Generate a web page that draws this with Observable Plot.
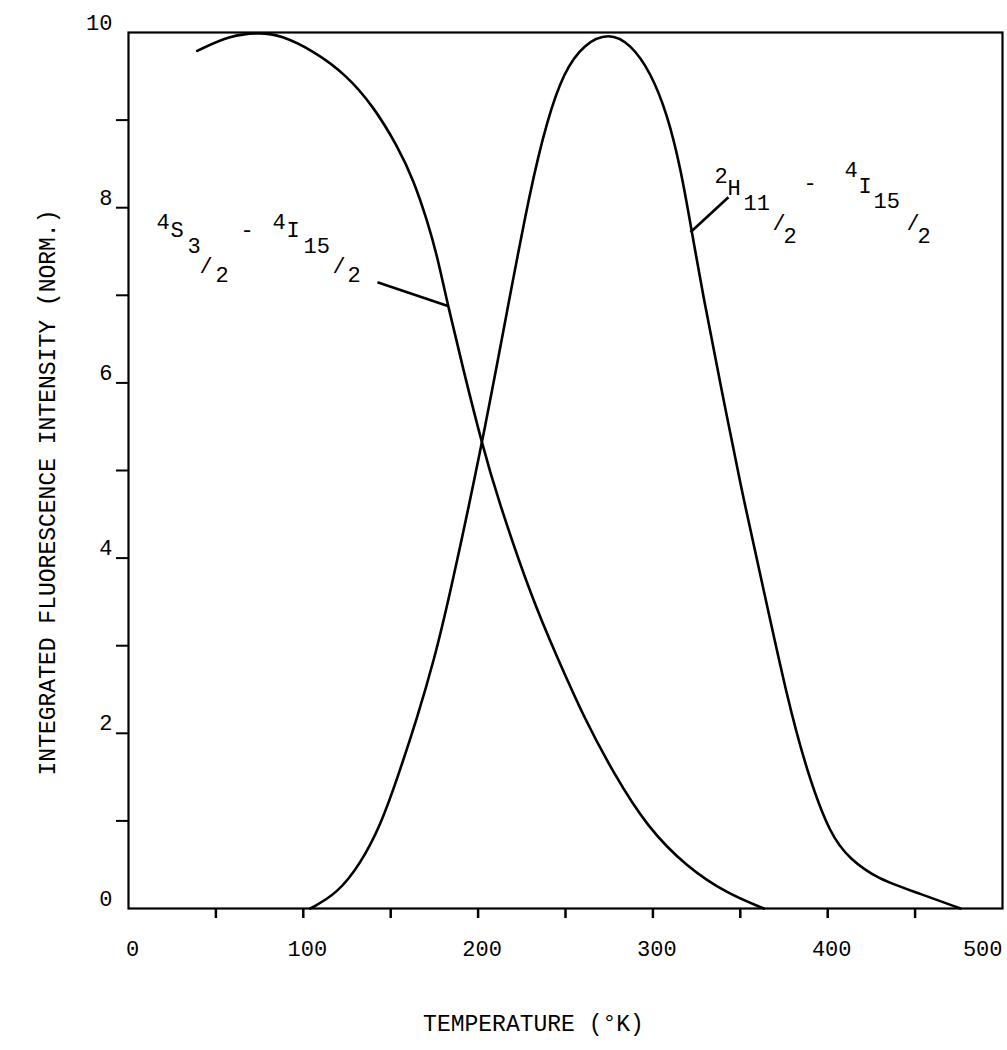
<!DOCTYPE html>
<html><head><meta charset="utf-8">
<script src="https://cdn.jsdelivr.net/npm/d3@7"></script>
<script src="https://cdn.jsdelivr.net/npm/@observablehq/plot@0.6"></script>
<style>body{margin:0;background:#fff} svg{display:block}</style>
</head><body><div id="chart"></div>
<script>
// 4S3/2 - 4I15/2 band
const sTemp = [39.3, 58.4, 75.5, 87, 106, 125, 140.3, 153.7, 163.2, 170.9, 176.6, 182.3, 191.8, 202.3, 210.9, 230.9, 245.2, 260.5, 277.6, 296.7, 319.6, 342.5, 363.5];
const sInt  = [9.79, 9.97, 10.0, 9.97, 9.79, 9.51, 9.15, 8.71, 8.31, 7.85, 7.45, 6.92, 6.13, 5.30, 4.70, 3.53, 2.87, 2.18, 1.54, 0.93, 0.47, 0.17, 0];
// 2H11/2 - 4I15/2 band
const hTemp = [104, 119.4, 132.7, 144.2, 153.7, 165.2, 174.7, 183.2, 202.3, 215.7, 230, 239.5, 249, 260.5, 274.8, 287.2, 298.6, 308.2, 315.8, 322.5, 328.2, 339, 350.1, 361.6, 376.8, 388.3, 401.6, 413, 428.3, 451.2, 476];
const hInt  = [0, 0.17, 0.51, 0.95, 1.48, 2.18, 2.83, 3.52, 5.30, 6.73, 8.23, 9.0, 9.55, 9.87, 10.0, 9.87, 9.55, 9.07, 8.46, 7.70, 7.05, 5.95, 4.83, 3.80, 2.40, 1.55, 0.83, 0.56, 0.34, 0.18, 0];

const xTickValues = [50, 100, 150, 200, 250, 300, 350, 400, 450];
const xTickLabels = [0, 100, 200, 300, 400, 500];
const yTickValues = [1, 2, 3, 4, 5, 6, 7, 8, 9];
const yTickLabels = [0, 2, 4, 6, 8, 10];
const xTitle = "TEMPERATURE (°K)";
const yTitle = "INTEGRATED FLUORESCENCE INTENSITY (NORM.)";

// annotation pieces
const label1Text = ["4", "S", "3", "/", "2", "-", "4", "I", "15", "/", "2"];
const label2Text = ["2", "H", "11", "/", "2", "-", "4", "I", "15", "/", "2"];

const sData = sTemp.map((t, i) => ({t, v: sInt[i]}));
const hData = hTemp.map((t, i) => ({t, v: hInt[i]}));

// layout of annotations (anchor in data coords, piece offsets in px)
const ann1 = {x: 24.0, y: 7.66, dx: [-14, 0, 17, 29, 45, 70, 102, 116, 133, 162, 177], dy: [-8, 0, 16, 36, 45, 0, -8, 0, 16, 36, 45]};
const ann2 = {x: 342.7, y: 8.14, dx: [-13, 0, 16, 45, 56, 76, 117, 131, 146, 179, 190], dy: [-12, 0, 15, 35, 48, -5, -18, -2, 13, 35, 48]};
const leaders = [
  {x1: 142.4, y1: 7.15, x2: 182.3, y2: 6.88},
  {x1: 343.2, y1: 8.12, x2: 321.5, y2: 7.72}
];

function annMarks(texts, a) {
  return texts.map((t, i) => Plot.text([t], {x: () => a.x, y: () => a.y, text: d => d, dx: a.dx[i], dy: a.dy[i], textAnchor: "start", lineAnchor: "bottom", fontSize: 22}));
}

const chart = Plot.plot({
  width: 1007, height: 1050,
  marginLeft: 128, marginRight: 5, marginTop: 32, marginBottom: 142,
  x: {domain: [0, 500], axis: null},
  y: {domain: [0, 10], axis: null},
  style: {fontFamily: "'Liberation Mono', monospace", background: "white", color: "black"},
  marks: [
    Plot.axisX({ticks: xTickValues, tickSize: 10, tickFormat: () => "", strokeWidth: 2.5}),
    Plot.axisY({ticks: yTickValues, tickSize: 12, tickFormat: () => "", strokeWidth: 2}),
    Plot.frame({strokeWidth: 2.2}),
    Plot.text(xTickLabels, {filter: d => d < 500, x: d => d, text: d => String(d), frameAnchor: "bottom", lineAnchor: "top", dy: 32, dx: 4, fontSize: 22}),
    Plot.text(xTickLabels, {filter: d => d === 500, x: d => d, text: d => String(d), frameAnchor: "bottom", lineAnchor: "top", textAnchor: "end", dy: 32, fontSize: 22}),
    Plot.text(yTickLabels, {y: d => d, text: d => String(d), frameAnchor: "left", textAnchor: "end", dx: -16, dy: -10, fontSize: 22}),
    Plot.text([xTitle], {frameAnchor: "bottom", textAnchor: "middle", dy: 122, dx: -32, fontSize: 23}),
    Plot.text([yTitle], {frameAnchor: "left", textAnchor: "middle", rotate: -90, dx: -81, dy: 22, fontSize: 23}),
    Plot.line(sData, {x: "t", y: "v", curve: "basis", strokeWidth: 2.6}),
    Plot.line(hData, {x: "t", y: "v", curve: "basis", strokeWidth: 2.6}),
    Plot.link(leaders, {x1: "x1", y1: "y1", x2: "x2", y2: "y2", strokeWidth: 2.6}),
    ...annMarks(label1Text, ann1),
    ...annMarks(label2Text, ann2)
  ]
});
document.getElementById("chart").append(chart);
</script>
</body></html>
